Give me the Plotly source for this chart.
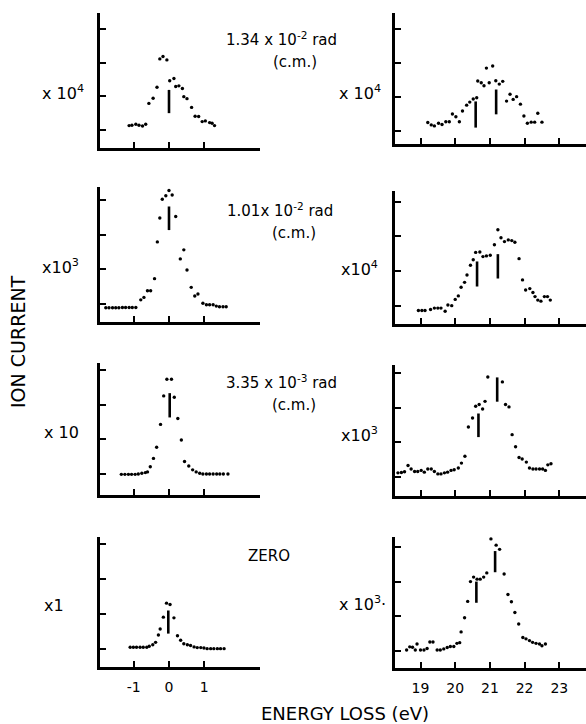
import plotly.graph_objects as go

# ---------------- data ----------------
# Left column: elastic peak region (energy loss around 0 eV)
p1_x = [-1.13, -1.05, -0.94, -0.85, -0.75, -0.66, -0.57, -0.45, -0.34, -0.26, -0.17, -0.06, 0.02,
        0.14, 0.19, 0.28, 0.38, 0.42, 0.51, 0.64, 0.74, 0.84, 0.94, 1.03, 1.15, 1.22, 1.29]
p1_y = [0.13, 0.14, 0.17, 0.14, 0.12, 0.17, 0.79, 0.94, 1.27, 2.11, 2.18, 2.08, 1.46,
        1.53, 1.29, 1.31, 1.23, 0.99, 0.93, 0.67, 0.41, 0.40, 0.25, 0.27, 0.22, 0.20, 0.13]
p1_mark_x = [0.0]
p1_mark_lo = [0.50]
p1_mark_hi = [1.19]

p3_x = [-1.79, -1.70, -1.60, -1.51, -1.42, -1.32, -1.23, -1.13, -1.04, -0.94, -0.80, -0.71, -0.61,
        -0.52, -0.41, -0.33, -0.26, -0.19, -0.09, 0.00, 0.09, 0.19, 0.32, 0.42, 0.51, 0.63, 0.73,
        0.82, 0.96, 1.06, 1.15, 1.25, 1.34, 1.43, 1.53, 1.62]
p3_y = [-0.11, -0.11, -0.11, -0.11, -0.11, -0.10, -0.10, -0.10, -0.10, -0.10, 0.12, 0.19, 0.38,
        0.38, 0.73, 1.79, 2.48, 3.02, 3.12, 3.27, 3.14, 2.52, 1.30, 1.56, 0.98, 0.48, 0.23,
        0.29, 0.02, -0.02, -0.02, -0.02, -0.06, -0.08, -0.08, -0.08]
p3_mark_x = [0.0]
p3_mark_lo = [2.13]
p3_mark_hi = [2.81]

p5_x = [-1.35, -1.25, -1.15, -1.06, -0.96, -0.87, -0.77, -0.67, -0.61, -0.53, -0.44, -0.35, -0.24,
        -0.15, -0.06, 0.07, 0.15, 0.25, 0.35, 0.44, 0.56, 0.67, 0.77, 0.87, 0.96, 1.06, 1.15,
        1.25, 1.35, 1.44, 1.54, 1.67]
p5_y = [-0.01, -0.01, -0.01, -0.01, -0.01, 0.00, 0.02, 0.04, 0.06, 0.21, 0.45, 0.77, 1.43,
        2.25, 2.73, 2.73, 2.21, 1.60, 0.98, 0.36, 0.23, 0.12, 0.06, 0.02, 0.00, 0.00, 0.00,
        0.00, 0.00, 0.00, 0.00, 0.00]
p5_mark_x = [0.02]
p5_mark_lo = [1.63]
p5_mark_hi = [2.33]

p7_x = [-1.10, -1.01, -0.92, -0.82, -0.73, -0.63, -0.56, -0.46, -0.38, -0.30, -0.25, -0.16, -0.07,
        0.03, 0.14, 0.24, 0.33, 0.42, 0.52, 0.61, 0.71, 0.80, 0.90, 0.99, 1.08, 1.18, 1.27,
        1.37, 1.46, 1.56]
p7_y = [0.05, 0.05, 0.05, 0.05, 0.05, 0.05, 0.08, 0.12, 0.19, 0.40, 0.57, 0.91, 1.31,
        1.27, 0.89, 0.38, 0.25, 0.15, 0.12, 0.10, 0.06, 0.04, 0.04, 0.03, 0.01, 0.01, 0.01,
        0.01, 0.01, 0.01]
p7_mark_x = [-0.02]
p7_mark_lo = [0.44]
p7_mark_hi = [1.10]

# Right column: energy loss 18.5 - 23 eV
p2_x = [19.21, 19.31, 19.40, 19.52, 19.62, 19.73, 19.83, 19.92, 20.02, 20.12, 20.21, 20.33, 20.42,
        20.52, 20.62, 20.65, 20.75, 20.83, 20.90, 20.98, 21.08, 21.17, 21.27, 21.37, 21.48, 21.58,
        21.67, 21.77, 21.88, 21.98, 22.08, 22.19, 22.29, 22.38, 22.50]
p2_y = [0.25, 0.18, 0.15, 0.23, 0.19, 0.27, 0.27, 0.50, 0.42, 0.27, 0.59, 0.76, 0.85,
        0.94, 0.98, 1.47, 1.42, 1.33, 1.85, 1.42, 1.91, 1.48, 1.38, 1.46, 0.88, 1.08,
        0.93, 1.01, 0.79, 0.44, 0.23, 0.26, 0.26, 0.52, 0.26]
p2_mark_x = [20.59, 21.18]
p2_mark_lo = [0.10, 0.49]
p2_mark_hi = [0.87, 1.22]

p4_x = [18.94, 19.04, 19.13, 19.29, 19.40, 19.50, 19.59, 19.71, 19.79, 19.90, 20.00, 20.09, 20.17,
        20.27, 20.34, 20.44, 20.52, 20.59, 20.71, 20.80, 20.90, 21.01, 21.13, 21.23, 21.32, 21.42,
        21.53, 21.63, 21.72, 21.84, 21.94, 22.03, 22.15, 22.24, 22.30, 22.38, 22.47, 22.57, 22.66,
        22.74]
p4_y = [-0.13, -0.13, -0.13, -0.10, -0.06, -0.06, -0.06, -0.15, 0.03, 0.01, 0.19, 0.29, 0.54,
        0.68, 0.89, 1.17, 1.33, 1.54, 1.55, 1.42, 1.44, 1.46, 1.76, 2.19, 1.96, 1.85,
        1.90, 1.88, 1.83, 1.36, 0.75, 0.46, 0.50, 0.39, 0.27, 0.17, 0.14, 0.27, 0.27,
        0.17]
p4_mark_x = [20.63, 21.23]
p4_mark_lo = [0.56, 0.79]
p4_mark_hi = [1.28, 1.49]

p6_x = [18.35, 18.45, 18.54, 18.64, 18.73, 18.83, 18.92, 19.02, 19.11, 19.21, 19.31, 19.40, 19.50,
        19.59, 19.69, 19.78, 19.88, 19.97, 20.09, 20.18, 20.28, 20.38, 20.50, 20.59, 20.69, 20.79,
        20.86, 20.94, 21.03, 21.13, 21.24, 21.36, 21.45, 21.55, 21.64, 21.74, 21.84, 21.93, 22.05,
        22.14, 22.24, 22.33, 22.43, 22.52, 22.60, 22.67, 22.76]
p6_y = [0.12, 0.13, 0.15, 0.33, 0.23, 0.16, 0.16, 0.19, 0.14, 0.23, 0.23, 0.16, 0.09,
        0.09, 0.12, 0.14, 0.19, 0.21, 0.26, 0.40, 0.60, 1.44, 1.70, 2.04, 2.09, 1.96,
        2.18, 2.88, 3.43, 3.38, 3.38, 2.74, 2.09, 2.02, 1.22, 0.87, 0.56, 0.52, 0.43,
        0.26, 0.23, 0.23, 0.23, 0.23, 0.19, 0.35, 0.38]
p6_mark_x = [20.67, 21.21]
p6_mark_lo = [1.15, 2.17]
p6_mark_hi = [1.83, 2.87]

p8_x = [18.60, 18.69, 18.77, 18.85, 18.90, 19.00, 19.10, 19.19, 19.27, 19.36, 19.48, 19.57, 19.67,
        19.77, 19.86, 19.96, 20.05, 20.13, 20.17, 20.27, 20.36, 20.44, 20.53, 20.63, 20.72, 20.82,
        20.91, 21.03, 21.11, 21.18, 21.28, 21.41, 21.52, 21.62, 21.72, 21.83, 21.95, 22.04, 22.14,
        22.23, 22.33, 22.43, 22.50, 22.60]
p8_y = [0.03, 0.12, 0.11, 0.03, 0.20, 0.03, 0.03, 0.07, 0.26, 0.26, 0.03, 0.03, 0.06,
        0.10, 0.13, 0.13, 0.22, 0.24, 0.55, 0.96, 1.43, 2.00, 2.13, 2.07, 2.07, 2.13,
        2.25, 3.23, 3.49, 3.05, 2.93, 2.22, 1.63, 1.42, 1.11, 0.78, 0.39, 0.35, 0.30,
        0.25, 0.22, 0.20, 0.15, 0.20]
p8_mark_x = [20.61, 21.15]
p8_mark_lo = [1.39, 2.27]
p8_mark_hi = [2.00, 2.88]

left_ticks = [-1, 0, 1]
left_ticktext = ["-1", "0", "1"]
right_ticks = [19, 20, 21, 22, 23]
right_ticktext = ["19", "20", "21", "22", "23"]
y_ticks = [0, 1, 2, 3]

angle_labels = [["1.34 x 10<sup>-2</sup> rad", "(c.m.)"],
                ["1.01x 10<sup>-2</sup> rad", "(c.m.)"],
                ["3.35 x 10<sup>-3</sup> rad", "(c.m.)"],
                ["ZERO"]]
left_scales = ["x 10<sup>4</sup>", "x10<sup>3</sup>", "x 10", "x1"]
right_scales = ["x 10<sup>4</sup>", "x10<sup>4</sup>", "x10<sup>3</sup>", "x 10<sup>3</sup>·"]
y_title = "ION CURRENT"
x_title = "ENERGY LOSS (eV)"

# ---------------- layout geometry (pixels of the 586x724 page) ----------------
W, H = 586, 724
FONT = "DejaVu Sans"

panels = [
    # data x, y, mark x, lo, hi, column, (top, bottom, tick0 px, tick spacing px)
    (p1_x, p1_y, p1_mark_x, p1_mark_lo, p1_mark_hi, "L", (13, 148, 130, 33.7)),
    (p2_x, p2_y, p2_mark_x, p2_mark_lo, p2_mark_hi, "R", (13, 144, 131, 34.0)),
    (p3_x, p3_y, p3_mark_x, p3_mark_lo, p3_mark_hi, "L", (187, 322, 304, 34.7)),
    (p4_x, p4_y, p4_mark_x, p4_mark_lo, p4_mark_hi, "R", (191, 324, 306, 34.8)),
    (p5_x, p5_y, p5_mark_x, p5_mark_lo, p5_mark_hi, "L", (363, 495, 474, 34.7)),
    (p6_x, p6_y, p6_mark_x, p6_mark_lo, p6_mark_hi, "R", (365, 496, 477, 34.7)),
    (p7_x, p7_y, p7_mark_x, p7_mark_lo, p7_mark_hi, "L", (537, 667, 649, 35.0)),
    (p8_x, p8_y, p8_mark_x, p8_mark_lo, p8_mark_hi, "R", (537, 668, 651, 34.7)),
]

# column geometry: (left px, right px, px of reference value, reference value, px per unit)
cols = {
    "L": (100, 260, 169, 0.0, 35.3),
    "R": (395, 586, 420.5, 19.0, 34.7),
}

fig = go.Figure()
layout = {}
for i, (xs, ys, mx, mlo, mhi, col, (top, bot, t0, sp)) in enumerate(panels, start=1):
    xa = "x" if i == 1 else f"x{i}"
    ya = "y" if i == 1 else f"y{i}"
    fig.add_trace(go.Scatter(
        x=xs, y=ys, mode="markers", xaxis=xa, yaxis=ya,
        marker=dict(color="black", size=3.4), cliponaxis=False, showlegend=False,
        hoverinfo="skip"))
    lx, ly = [], []
    for xv, lo, hi in zip(mx, mlo, mhi):
        lx += [xv, xv, None]
        ly += [lo, hi, None]
    fig.add_trace(go.Scatter(
        x=lx, y=ly, mode="lines", xaxis=xa, yaxis=ya,
        line=dict(color="black", width=2.6), showlegend=False, hoverinfo="skip"))

    l, r, pref, vref, ppu = cols[col]
    xr = [vref - (pref - l) / ppu, vref + (r - pref) / ppu]
    yr = [-(bot - t0) / sp, (t0 - top) / sp]
    bottom_row = i >= 7
    if col == "L":
        tv, tt = left_ticks, left_ticktext
    else:
        tv, tt = right_ticks, right_ticktext
    layout["xaxis" if i == 1 else f"xaxis{i}"] = dict(
        domain=[l / W, r / W], range=xr, anchor=ya,
        showline=True, linecolor="black", linewidth=3,
        showgrid=False, zeroline=False,
        ticks="inside", ticklen=6, tickwidth=2, tickcolor="black",
        tickvals=tv, ticktext=tt, showticklabels=bottom_row,
        tickfont=dict(family=FONT, size=14, color="black"),
        ticklabelstandoff=5, fixedrange=True)
    layout["yaxis" if i == 1 else f"yaxis{i}"] = dict(
        domain=[1 - bot / H, 1 - top / H], range=yr, anchor=xa,
        showline=True, linecolor="black", linewidth=3,
        showgrid=False, zeroline=False,
        ticks="inside", ticklen=6, tickwidth=2, tickcolor="black",
        tickvals=y_ticks, showticklabels=False, fixedrange=True)

# ---------------- annotations ----------------
ann = []


def add_text(text, px, py, size=16, xanchor="center", angle=0):
    ann.append(dict(text=text, x=px / W, y=1 - py / H, xref="paper", yref="paper",
                    xanchor=xanchor, yanchor="middle", showarrow=False, textangle=angle,
                    font=dict(family=FONT, size=size, color="black")))


angle_pos = [(281, 39, 295, 62), (280, 210, 294, 233), (281, 382, 294, 405), (269, 556, None, None)]
for lbl, (x1, y1, x2, y2) in zip(angle_labels, angle_pos):
    add_text(lbl[0], x1, y1, size=15)
    if len(lbl) > 1:
        add_text(lbl[1], x2, y2, size=15)

left_pos = [(40, 93), (40, 266), (42, 432), (42, 605)]
for lbl, (px, py) in zip(left_scales, left_pos):
    add_text(lbl, px, py, size=16, xanchor="left")

right_pos = [(337, 93), (339, 268), (339, 434), (337, 603)]
for lbl, (px, py) in zip(right_scales, right_pos):
    add_text(lbl, px, py, size=16, xanchor="left")

add_text(y_title, 18, 342, size=19, angle=-90)
add_text(x_title, 345, 713, size=18)

layout.update(dict(
    width=W, height=H, margin=dict(l=0, r=0, t=0, b=0),
    paper_bgcolor="white", plot_bgcolor="white",
    showlegend=False, annotations=ann,
    font=dict(family=FONT, color="black"),
))
fig.update_layout(**layout)
fig.write_html(
    "out.html",
    config={"displayModeBar": False},
    post_script="document.body.style.margin='0';document.body.style.padding='0';"
                "document.documentElement.style.overflow='hidden';"
                "document.body.style.overflow='hidden';",
)
